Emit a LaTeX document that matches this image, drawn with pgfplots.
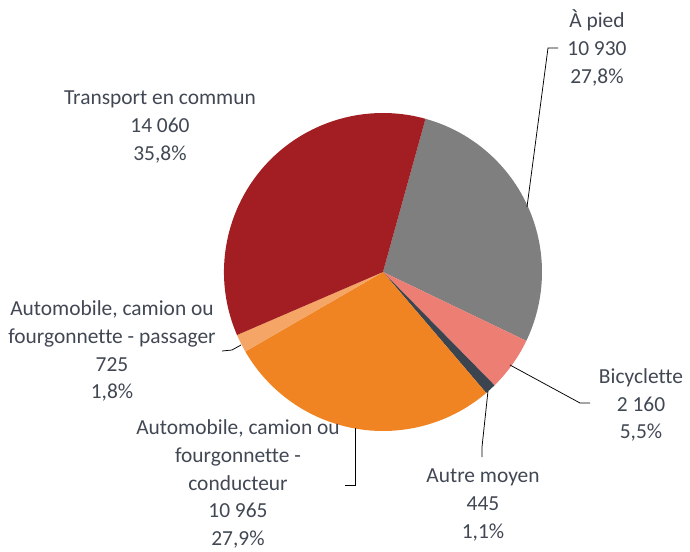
\documentclass[border=0pt]{standalone}
\usepackage{fontspec}
\setmainfont{Carlito}[Ligatures={NoCommon}]
\usepackage{pgfplots}
\usepackage{pgfplotstable}
\pgfplotsset{compat=1.18}
\definecolor{cPied}{HTML}{7F7F7F}
\definecolor{cBic}{HTML}{EC7E73}
\definecolor{cAutre}{HTML}{3C4450}
\definecolor{cCond}{HTML}{F08423}
\definecolor{cPass}{HTML}{F5A566}
\definecolor{cTrans}{HTML}{A21E22}
\definecolor{txt}{HTML}{414854}
\tikzset{lbl/.style={font=\fontsize{21.5}{28}\selectfont, text=txt, align=center, inner sep=0pt}}
\pgfplotstableread{
mode value
Apied 10930
Bicyclette 2160
Autre 445
Conducteur 10965
Passager 725
Transport 14060
}\modes
\begin{document}
\begin{tikzpicture}
\pgfplotstablegetelem{0}{value}\of\modes \let\vA\pgfplotsretval
\pgfplotstablegetelem{1}{value}\of\modes \let\vB\pgfplotsretval
\pgfplotstablegetelem{2}{value}\of\modes \let\vC\pgfplotsretval
\pgfplotstablegetelem{3}{value}\of\modes \let\vD\pgfplotsretval
\pgfplotstablegetelem{4}{value}\of\modes \let\vE\pgfplotsretval
\pgfplotstablegetelem{5}{value}\of\modes \let\vF\pgfplotsretval
\edef\total{\fpeval{\vA+\vB+\vC+\vD+\vE+\vF}}
\edef\aA{74.5}
\edef\aB{\fpeval{\aA-360*\vA/\total}}
\edef\aC{\fpeval{\aB-360*\vB/\total}}
\edef\aD{\fpeval{\aC-360*\vC/\total}}
\edef\aE{\fpeval{\aD-360*\vD/\total}}
\edef\aF{\fpeval{\aE-360*\vE/\total}}
\edef\aG{\fpeval{\aF-360*\vF/\total}}
\useasboundingbox (0,0) rectangle (690bp,552bp);
\begin{axis}[scale only axis, width=690bp, height=552bp,
  xmin=0, xmax=690, ymin=0, ymax=552, y dir=reverse,
  hide axis, clip=false, at={(0,0)}, anchor=south west]
\addplot[draw=none] coordinates {(0,0) (690,552)};
\fill[cPied]  (axis cs:383,272) -- ++(\aA:159bp) arc[start angle=\aA, end angle=\aB, radius=159bp] -- cycle;
\fill[cBic]   (axis cs:383,272) -- ++(\aB:159bp) arc[start angle=\aB, end angle=\aC, radius=159bp] -- cycle;
\fill[cAutre] (axis cs:383,272) -- ++(\aC:159bp) arc[start angle=\aC, end angle=\aD, radius=159bp] -- cycle;
\fill[cCond]  (axis cs:383,272) -- ++(\aD:159bp) arc[start angle=\aD, end angle=\aE, radius=159bp] -- cycle;
\fill[cPass]  (axis cs:383,272) -- ++(\aE:159bp) arc[start angle=\aE, end angle=\aF, radius=159bp] -- cycle;
\fill[cTrans] (axis cs:383,272) -- ++(\aF:159bp) arc[start angle=\aF, end angle=\aG, radius=159bp] -- cycle;
% leader lines
\draw[black, line width=0.75bp] (axis cs:558,48) -- (axis cs:548,48) -- (axis cs:527,207);
\draw[black, line width=0.75bp] (axis cs:510,365) -- (axis cs:580,403) -- (axis cs:590,403);
\draw[black, line width=0.75bp] (axis cs:488,391) -- (axis cs:482,447) -- (axis cs:482,457);
\draw[black, line width=0.75bp] (axis cs:355,428) -- (axis cs:355,485) -- (axis cs:345,485);
\draw[black, line width=0.75bp] (axis cs:241,345) -- (axis cs:232,350) -- (axis cs:222,351);
% labels
\node[lbl] at (axis cs:597,48) {À pied\\10 930\\27,8\%};
\node[lbl] at (axis cs:641,405) {Bicyclette\\2 160\\5,5\%};
\node[lbl] at (axis cs:483,505) {Autre moyen\\445\\1,1\%};
\node[lbl] at (axis cs:238,484) {Automobile, camion ou\\fourgonnette -\\conducteur\\10 965\\27,9\%};
\node[lbl] at (axis cs:112,351) {Automobile, camion ou\\fourgonnette - passager\\725\\1,8\%};
\node[lbl] at (axis cs:160,127) {Transport en commun\\14 060\\35,8\%};
\end{axis}
\end{tikzpicture}
\end{document}
